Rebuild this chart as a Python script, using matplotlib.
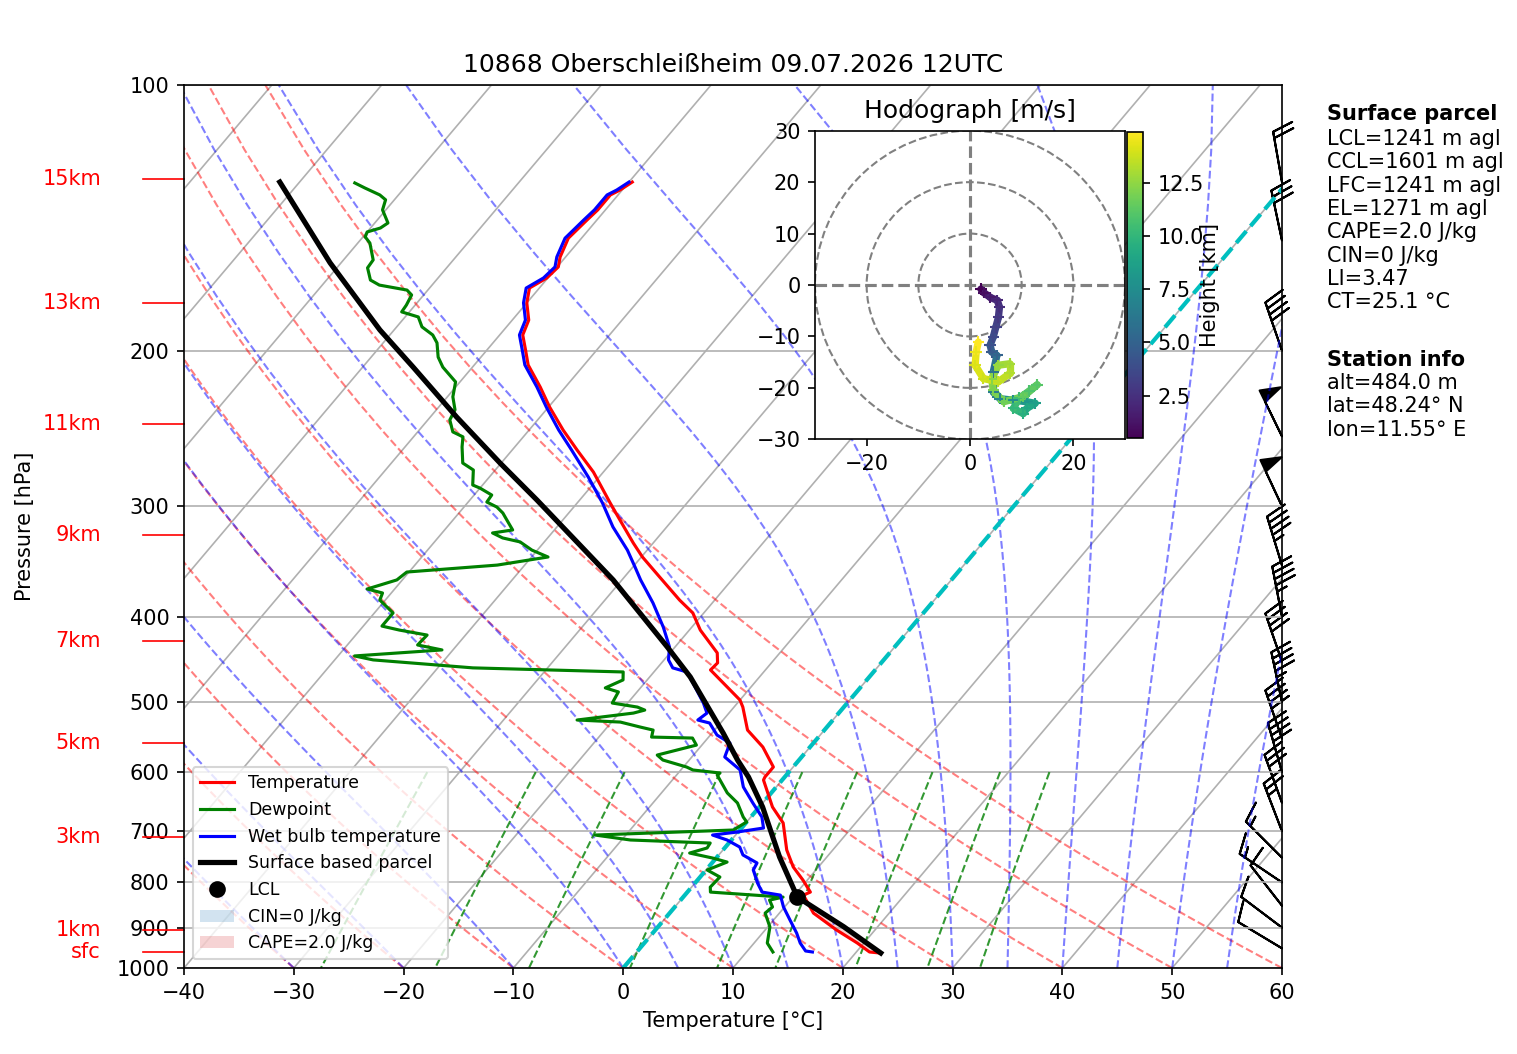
import numpy as np
import matplotlib
matplotlib.use("Agg")
import matplotlib.pyplot as plt
import matplotlib.transforms as mtransforms
from matplotlib.collections import LineCollection
from matplotlib.patches import Circle, Patch
from matplotlib.colors import Normalize

# ---- sounding values (p in hPa, T in degC) ----
temp_p = [128.8, 131.5, 133.2, 138.5, 142.2, 149.1, 156.6, 160.7, 165.4, 169.8,
          176.5, 184.6, 191.9, 199.5, 207.5, 219.8, 231.6, 245.9, 259.0, 274.4,
          297.4, 310.9, 330.2, 342.4, 360.7, 383.1, 396.2, 414.3, 439.7, 451.3,
          459.7, 497.2, 506.4, 537.7, 562.0, 592.1, 607.7, 612.5, 657.2, 685.1,
          735.0, 768.3, 795.1, 820.4, 826.9, 866.6, 905.6, 937.0, 959.1, 961.6]
temp_t = [-59.7, -60.2, -60.7, -60.7, -60.9, -61.2, -60.5, -59.9, -60.1, -60.9,
          -60.0, -58.5, -57.9, -56.5, -55.1, -52.3, -49.9, -46.9, -44.1, -40.9,
          -37.0, -34.8, -31.8, -29.9, -26.8, -23.2, -21.0, -19.0, -15.7, -14.9,
          -15.0, -10.0, -9.2, -7.0, -4.3, -1.8, -1.8, -1.7, 1.2, 3.4,
          5.8, 7.7, 9.6, 11.2, 10.8, 13.1, 16.5, 19.4, 21.2, 22.2]

dew_p = [129.1, 130.8, 133.2, 134.9, 138.5, 143.3, 145.2, 146.7, 148.6, 151.0,
         157.8, 161.1, 166.3, 168.5, 170.7, 172.9, 177.5, 180.7, 183.1, 187.9,
         191.9, 195.9, 203.3, 208.7, 216.9, 225.5, 233.3, 239.5, 247.1, 250.3,
         257.0, 268.0, 272.9, 283.8, 286.1, 291.3, 296.7, 300.6, 305.3, 310.9,
         319.1, 321.6, 325.8, 329.2, 336.3, 342.4, 349.7, 356.1, 363.5, 372.2,
         376.1, 383.1, 396.2, 410.0, 414.3, 419.7, 430.7, 436.3, 443.2, 447.8,
         457.2, 462.1, 471.8, 481.7, 486.8, 501.1, 506.4, 510.4, 514.4, 523.8,
         526.6, 533.5, 537.7, 547.6, 549.0, 559.2, 573.9, 581.4, 592.1, 596.7,
         601.4, 604.6, 633.5, 650.3, 674.5, 683.3, 697.8, 707.0, 716.2, 721.9,
         731.3, 741.0, 750.8, 758.6, 774.5, 788.8, 809.8, 820.4, 831.2, 837.7,
         852.9, 866.6, 898.5, 937.0, 959.1]
dew_t = [-84.9, -83.6, -81.7, -80.8, -80.3, -78.8, -79.1, -80.0, -79.8, -78.9,
         -77.3, -77.2, -76.0, -74.8, -71.9, -71.1, -70.8, -70.7, -68.8, -67.7,
         -66.1, -65.1, -63.9, -62.7, -60.4, -59.5, -58.3, -58.0, -56.8, -55.5,
         -54.8, -53.5, -52.0, -50.9, -50.0, -48.4, -48.3, -47.0, -46.0, -45.1,
         -43.8, -45.4, -44.1, -42.2, -40.5, -38.5, -42.5, -50.2, -50.5, -52.5,
         -50.8, -50.5, -48.3, -48.3, -46.4, -43.5, -43.6, -41.0, -48.5, -46.5,
         -36.8, -22.8, -22.2, -23.2, -21.7, -21.4, -18.8, -17.9, -18.7, -23.3,
         -19.2, -17.0, -15.6, -15.2, -11.4, -10.5, -13.3, -12.4, -9.7, -8.9,
         -6.2, -6.3, -4.0, -2.3, -0.7, 0.0, -0.6, -12.8, -9.2, -1.7,
         -1.6, -2.8, -0.3, 1.3, 0.1, 1.8, 1.7, 2.1, 9.1, 8.1,
         8.9, 8.7, 10.2, 11.2, 12.4]

wetbulb_p = [128.8, 131.5, 133.2, 138.5, 142.2, 149.1, 156.6, 160.7, 165.4, 169.8,
             176.5, 184.6, 191.9, 199.5, 207.5, 219.8, 231.6, 245.9, 259.0, 277.9,
             297.4, 316.6, 336.3, 351.5, 363.5, 386.0, 411.1, 433.0, 447.8, 457.2,
             462.1, 475.5, 501.1, 514.4, 523.8, 527.9, 544.7, 556.2, 576.8, 596.7,
             623.7, 650.3, 674.5, 694.2, 701.5, 707.0, 716.2, 729.5, 744.7, 760.4,
             774.5, 801.4, 820.4, 826.9, 852.9, 882.5, 912.8, 937.0, 956.6, 959.1]
wetbulb_t = [-60.0, -60.5, -61.0, -61.0, -61.2, -61.5, -60.8, -60.2, -60.4, -61.2,
             -60.3, -58.8, -58.2, -56.8, -55.4, -52.6, -50.2, -47.3, -44.6, -41.0,
             -37.7, -34.9, -31.8, -29.8, -28.3, -25.4, -22.6, -20.5, -19.6, -18.6,
             -17.0, -15.6, -13.1, -12.0, -12.3, -11.0, -9.4, -7.6, -7.0, -4.6,
             -3.0, -0.9, 1.0, 2.0, -0.1, -2.1, -0.4, 1.3, 2.2, 4.1,
             4.3, 5.7, 6.8, 8.7, 9.9, 11.5, 13.1, 14.2, 15.3, 16.0]

parcel_p = [961.6, 897.9, 831.2, 748.8, 657.2, 607.7, 581.4, 541.8, 468.2,
            433.0, 363.5, 295.1, 268.0, 237.7, 208.7, 189.4, 159.0, 128.8]
parcel_t = [22.3, 16.9, 10.4, 5.7, 0.3, -3.3, -5.6, -9.0, -16.3,
            -20.7, -30.8, -43.9, -50.1, -57.6, -65.4, -71.3, -81.0, -91.8]
lcl_p = 831.2
lcl_t = 10.4

height_p = [127.7, 176.4, 241.9, 323.2, 425.9, 555.9, 710.9, 905.2, 960.1]
height_labels = ["15km", "13km", "11km", "9km", "7km", "5km", "3km", "1km", "sfc"]

barb_p = [950, 900, 850, 800, 750, 700, 650, 600, 550, 500, 450, 400, 350,
          300, 250, 200, 150, 128.8]
barb_dir = [301, 307, 322, 304, 315, 339, 340, 344, 341, 348, 341, 349, 343,
            335, 334, 341, 348, 350]
barb_kt = [10, 10, 10, 15, 15, 25, 30, 40, 40, 45, 40, 45, 45,
           50, 50, 40, 30, 20]

hodo_h = [0.5, 1.0, 1.5, 2.0, 2.4, 2.8, 3.2, 3.6, 4.0, 4.5, 5.0, 5.8, 6.5, 7.0,
          7.5, 8.0, 8.5, 9.0, 9.5, 10.0, 10.4, 10.8, 11.1, 11.4, 11.7, 12.0,
          12.3, 12.6, 12.9, 13.2, 13.5, 13.8, 14.1, 14.4, 14.9]
hodo_u = [2.1, 2.7, 3.9, 5.3, 5.7, 5.5, 5.0, 4.5, 3.9, 4.2, 5.2, 4.5, 4.5, 5.8,
          8.4, 11.0, 12.6, 11.0, 10.3, 8.4, 9.5, 11.5, 13.0, 10.3, 6.5, 4.5,
          4.2, 5.5, 7.7, 7.7, 5.5, 2.6, 1.0, 1.2, 1.6]
hodo_v = [-0.8, -1.5, -2.4, -3.0, -4.3, -6.3, -8.2, -10.1, -11.7, -13.0, -13.7,
          -16.9, -20.8, -22.1, -22.4, -22.7, -23.0, -24.0, -25.0, -24.0, -22.0,
          -20.6, -19.4, -21.7, -22.7, -20.5, -18.2, -15.6, -15.3, -17.2, -18.8,
          -18.2, -15.6, -13.0, -11.1]

surface_lines = ["LCL=1241 m agl", "CCL=1601 m agl", "LFC=1241 m agl",
                 "EL=1271 m agl", "CAPE=2.0 J/kg", "CIN=0 J/kg", "LI=3.47",
                 "CT=25.1 °C"]
station_lines = ["alt=484.0 m", "lat=48.24° N", "lon=11.55° E"]

SKEW = 68.0  # x shift in degC per decade of pressure

# thermodynamic constants for the background lines
Rd, Cp, Lv, eps = 287.04749, 1004.6662, 2.50084e6, 0.6219569


def sat_mr(p, t):
    es = 6.112 * np.exp(17.67 * (t - 273.15) / (t - 29.65))
    es = np.minimum(es, 0.9 * p)
    return eps * es / (p - es)


def dtdp(p, t):
    rs = sat_mr(p, t)
    return (Rd * t + Lv * rs) / (Cp + Lv * Lv * rs * eps / (Rd * t * t)) / p


def moist_lines(t0, pres):
    t = np.asarray(t0, dtype=float) + 273.15
    out = [t.copy()]
    for p1, p2 in zip(pres[:-1], pres[1:]):
        n = 8
        h = (p2 - p1) / n
        p = p1
        for _ in range(n):
            k1 = dtdp(p, t)
            k2 = dtdp(p + h / 2, t + h / 2 * k1)
            k3 = dtdp(p + h / 2, t + h / 2 * k2)
            k4 = dtdp(p + h, t + h * k3)
            t = t + h / 6 * (k1 + 2 * k2 + 2 * k3 + k4)
            p += h
        out.append(t.copy())
    return np.array(out).T - 273.15


fig = plt.figure(figsize=(1517 / 150, 1054 / 150), dpi=150)
ax = fig.add_axes([184 / 1517, 86 / 1054, 1098 / 1517, 883 / 1054])
ax.set_yscale('log')
ax.set_xlim(-40, 60)
ax.set_ylim(1000, 100)
ax.set_autoscale_on(False)

skew = (ax.transScale
        + mtransforms.Affine2D(np.array([[1.0, -SKEW, 3 * SKEW], [0, 1, 0], [0, 0, 1]]))
        + ax.transLimits + ax.transAxes)

# isotherms
iso = [[(t, 1000), (t, 100)] for t in range(-140, 61, 10)]
ax.add_collection(LineCollection(iso, colors='#b0b0b0', linewidths=0.8,
                                 transform=skew, zorder=0.8), autolim=False)

p_lines = np.linspace(1000, 100, 50)
dry = [np.column_stack(((t0 + 273.15) * (p_lines / 1000) ** 0.28571 - 273.15, p_lines))
       for t0 in range(-40, 61, 10)]
ax.add_collection(LineCollection(dry, colors='r', linestyles='dashed', alpha=0.5,
                                 linewidths=1, transform=skew), autolim=False)

moist_t0 = np.concatenate((np.arange(-40, 0, 10), np.arange(0, 61, 5)))
moist_t = moist_lines(moist_t0, p_lines)
moist = [np.column_stack((mt, p_lines)) for mt in moist_t]
ax.add_collection(LineCollection(moist, colors='b', linestyles='dashed', alpha=0.5,
                                 linewidths=1, transform=skew), autolim=False)

mix_ratios = [0.0004, 0.001, 0.002, 0.004, 0.007, 0.01, 0.016, 0.024, 0.032]
p_mix = np.linspace(600, 1000, 50)
mix = []
for w in mix_ratios:
    e = p_mix * w / (eps + w)
    val = np.log(e / 6.112)
    mix.append(np.column_stack((243.5 * val / (17.67 - val), p_mix)))
ax.add_collection(LineCollection(mix, colors='g', linestyles='dashed', alpha=0.8,
                                 linewidths=1, transform=skew), autolim=False)

ax.plot([0, 0], [1000, 100], color='c', linestyle='--', linewidth=2, transform=skew)

# profiles
l_t, = ax.plot(temp_t, temp_p, 'r', lw=1.5, transform=skew, label='Temperature')
l_td, = ax.plot(dew_t, dew_p, 'g', lw=1.5, transform=skew, label='Dewpoint')
l_tw, = ax.plot(wetbulb_t, wetbulb_p, 'b', lw=1.5, transform=skew,
                label='Wet bulb temperature')
l_par, = ax.plot(parcel_t, parcel_p, 'k', lw=2.5, transform=skew,
                 label='Surface based parcel')
l_lcl, = ax.plot([lcl_t], [lcl_p], 'ko', markersize=7, transform=skew, label='LCL')

# CAPE shading (parcel warmer than environment)
env_p = np.array(temp_p)
env_t = np.array(temp_t)
low = env_p >= lcl_p
par_on_env = np.interp(env_p[low], parcel_p[::-1], parcel_t[::-1])
cape_fill = ax.fill_betweenx(env_p[low], env_t[low], par_on_env,
                             where=par_on_env >= env_t[low], interpolate=True,
                             facecolor='tab:red', alpha=0.2, transform=skew,
                             label='CAPE=2.0 J/kg')
cin_patch = Patch(facecolor='tab:blue', alpha=0.2, label='CIN=0 J/kg')

# wind barbs on the right edge
bdir = np.deg2rad(barb_dir)
bu = -np.array(barb_kt) * np.sin(bdir)
bv = -np.array(barb_kt) * np.cos(bdir)
ax.barbs(np.ones(len(barb_p)), barb_p, bu, bv, length=7, clip_on=False,
         transform=mtransforms.blended_transform_factory(ax.transAxes, ax.transData))

# height labels
blend = mtransforms.blended_transform_factory(ax.transAxes, ax.transData)
for hp, hl in zip(height_p, height_labels):
    ax.plot([-0.0373, 0], [hp, hp], color='r', lw=0.8, transform=blend, clip_on=False)
    ax.text(-0.0756, hp, hl, color='r', fontsize=10, ha='right', va='center',
            transform=blend)

ax.set_xticks(range(-40, 61, 10))
ax.set_yticks(range(100, 1001, 100), [str(v) for v in range(100, 1001, 100)])
ax.set_yticks([], minor=True)
ax.yaxis.grid(True, color='#b0b0b0', lw=0.8)
ax.set_xlabel('Temperature [°C]', fontsize=10)
ax.set_ylabel('Pressure [hPa]', fontsize=10, labelpad=39)
ax.tick_params(labelsize=10)
ax.set_title('10868 Oberschleißheim 09.07.2026 12UTC', fontsize=12)

ax.legend(handles=[l_t, l_td, l_tw, l_par, l_lcl, cin_patch, cape_fill],
          loc='lower left', fontsize='small')

# hodograph inset
hax = fig.add_axes([815 / 1517, (1054 - 439.3) / 1054, 310 / 1517, 308.6 / 1054])
hax.set_xlim(-30, 30)
hax.set_ylim(-30, 30)
for r in (10, 20, 30):
    hax.add_patch(Circle((0, 0), r, fill=False, edgecolor='grey', linestyle='--', lw=1))
hax.axhline(0, color='grey', linestyle='--', lw=1.5)
hax.axvline(0, color='grey', linestyle='--', lw=1.5)
norm = Normalize(min(hodo_h), max(hodo_h))
pts = np.column_stack([hodo_u, hodo_v]).reshape(-1, 1, 2)
segs = np.concatenate([pts[:-1], pts[1:]], axis=1)
lc = LineCollection(segs, cmap='viridis', norm=norm, linewidths=3.5,
                    capstyle='round')
lc.set_array(np.array(hodo_h[1:]))
hax.add_collection(lc)
sc = hax.scatter(hodo_u, hodo_v, c=hodo_h, cmap='viridis', norm=norm, marker='+',
                 s=30, linewidths=1, zorder=3)
hax.set_xticks([-20, 0, 20])
hax.set_yticks(range(-30, 31, 10))
hax.tick_params(labelsize=10)
hax.set_title('Hodograph [m/s]', fontsize=12)

cax = fig.add_axes([1127 / 1517, (1054 - 438.3) / 1054, 16 / 1517, 306.6 / 1054])
cb = fig.colorbar(sc, cax=cax)
cb.ax.tick_params(labelsize=10)
cb.set_label('Height [km]', fontsize=10)
cb.ax.yaxis.set_label_coords(4.56, 0.5)

# text blocks on the right
x0 = 1327 / 1517
fig.text(x0, 1 - 114 / 1054, 'Surface parcel', fontsize=10, fontweight='bold', va='center')
for i, line in enumerate(surface_lines):
    fig.text(x0, 1 - (139 + 23.3 * i) / 1054, line, fontsize=10, va='center')
fig.text(x0, 1 - 360 / 1054, 'Station info', fontsize=10, fontweight='bold', va='center')
for i, line in enumerate(station_lines):
    fig.text(x0, 1 - (383 + 23.3 * i) / 1054, line, fontsize=10, va='center')

fig.savefig('out.png', dpi=150)
